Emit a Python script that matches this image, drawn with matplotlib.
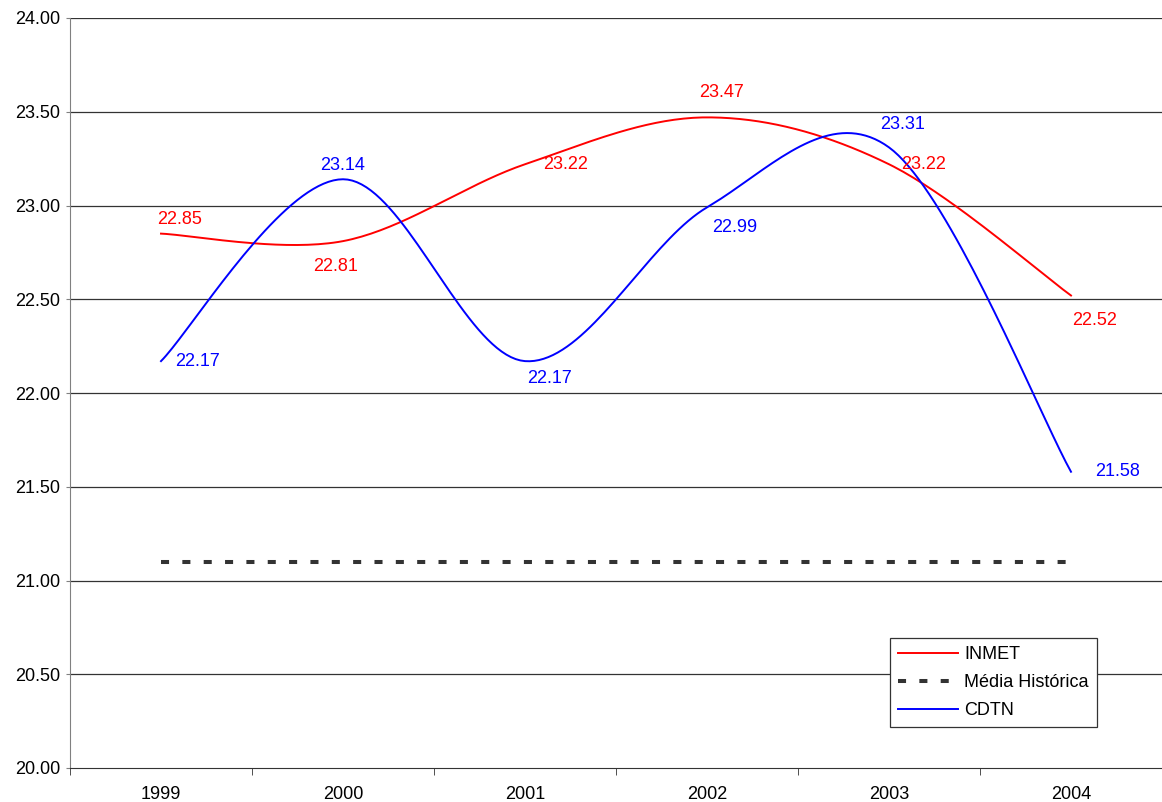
import numpy as np
import matplotlib
matplotlib.use("Agg")
import matplotlib.pyplot as plt

plt.rcParams['font.family'] = ['Liberation Sans', 'DejaVu Sans']

years = ["1999", "2000", "2001", "2002", "2003", "2004"]
inmet = [22.85, 22.81, 23.22, 23.47, 23.22, 22.52]
cdtn = [22.17, 23.14, 22.17, 22.99, 23.31, 21.58]
media = [21.10, 21.10, 21.10, 21.10, 21.10, 21.10]

# label offsets in pixels (dx right, dy down)
inmet_off = [(19, -14), (-7, 25), (41, 0), (15, -25), (35, 0), (24, 25)]
cdtn_off = [(36, 0), (0, -14), (24, 17), (28, 20), (14, -23), (47, 0)]


def smooth(x, y, n=40):
    # excel-like smoothed line (catmull-rom between the points)
    p = np.column_stack([x, y]).astype(float)
    p = np.vstack([p[0], p, p[-1]])
    out = []
    t = np.linspace(0, 1, n)[:, None]
    for i in range(1, len(p) - 2):
        p0, p1, p2, p3 = p[i - 1], p[i], p[i + 1], p[i + 2]
        c1 = p1 + (p2 - p0) / 6
        c2 = p2 - (p3 - p1) / 6
        seg = ((1 - t) ** 3) * p1 + 3 * ((1 - t) ** 2) * t * c1 + 3 * (1 - t) * t ** 2 * c2 + t ** 3 * p2
        out.append(seg)
    out = np.vstack(out)
    return out[:, 0], out[:, 1]


fig = plt.figure(figsize=(11.62, 8.02), dpi=100)
ax = fig.add_axes([70 / 1162, 1 - 768 / 802, 1092 / 1162, 750 / 802])

x = np.arange(len(years))

for v in np.arange(20.5, 24.01, 0.5):
    ax.axhline(v, color="#333333", lw=0.9, zorder=1)

sx, sy = smooth(x, inmet)
ax.plot(sx, sy, color="#ff0000", lw=1.4, label="INMET", zorder=3)
ax.plot(x, media, color="#333333", lw=2.9, ls=(0, (2.0, 3.3)), dash_capstyle="butt",
        label="Média Histórica", zorder=3)
sx, sy = smooth(x, cdtn)
ax.plot(sx, sy, color="#0000ff", lw=1.4, label="CDTN", zorder=3)

for i, v in enumerate(inmet):
    dx, dy = inmet_off[i]
    ax.annotate(f"{v:.2f}", (x[i], v), xytext=(dx * 0.72, -dy * 0.72), textcoords="offset points",
                ha="center", va="center", color="#ff0000", fontsize=13)
for i, v in enumerate(cdtn):
    dx, dy = cdtn_off[i]
    ax.annotate(f"{v:.2f}", (x[i], v), xytext=(dx * 0.72, -dy * 0.72), textcoords="offset points",
                ha="center", va="center", color="#0000ff", fontsize=13)

ax.set_xlim(-0.5, 5.5)
ax.set_ylim(20, 24)
ax.set_yticks(np.arange(20, 24.01, 0.5))
ax.set_yticklabels([f"{v:.2f}" for v in np.arange(20, 24.01, 0.5)], fontsize=13)
ax.set_xticks(x)
ax.set_xticklabels(years, fontsize=13)
ax.set_xticks(np.arange(-0.5, 5.6, 1), minor=True)
ax.tick_params(axis="x", which="major", length=0, pad=13)
ax.tick_params(axis="x", which="minor", length=5, color="#333333", direction="out")
ax.tick_params(axis="y", length=3, color="#808080", pad=4)

for s in ["top", "right"]:
    ax.spines[s].set_visible(False)
ax.spines["left"].set_color("#808080")
ax.spines["bottom"].set_color("#333333")

leg = ax.legend(loc="lower right", bbox_to_anchor=(1027 / 1092, 41 / 750), fontsize=13,
                frameon=True, fancybox=False, edgecolor="#333333", framealpha=1,
                handlelength=3.3, borderpad=0.45, labelspacing=0.6, handletextpad=0.35,
                borderaxespad=0)
leg.get_frame().set_linewidth(0.9)

fig.savefig("out.png", dpi=100)
